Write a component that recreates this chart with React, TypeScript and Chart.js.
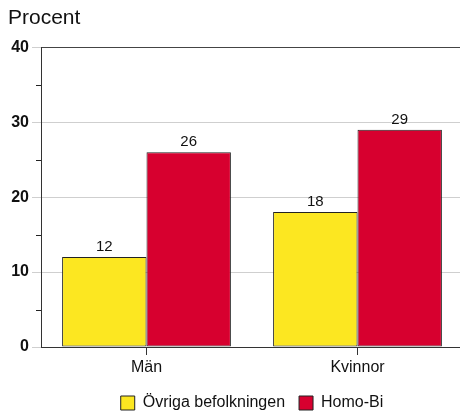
import React, { useEffect, useRef } from "react";
import { Chart, registerables } from "chart.js";

Chart.register(...registerables);

const categories = ["Män", "Kvinnor"];
const seriesNames = ["Övriga befolkningen", "Homo-Bi"];
const ovrigaValues = [12, 18];
const homoBiValues = [26, 29];
const yTicks = [0, 10, 20, 30, 40];
const yMinorTicks = [5, 15, 25, 35];
const yTitle = "Procent";

const FONT = "'Liberation Sans', Arial, Helvetica, sans-serif";
const YELLOW = "#FCE721";
const RED = "#D7002F";

const dataLabelPlugin = {
  id: "dataLabels",
  afterDatasetsDraw(chart: any) {
    const ctx = chart.ctx;
    ctx.save();
    ctx.font = `15px ${FONT}`;
    ctx.fillStyle = "#111";
    ctx.textAlign = "center";
    ctx.textBaseline = "alphabetic";
    chart.data.datasets.forEach((ds: any, i: number) => {
      const meta = chart.getDatasetMeta(i);
      meta.data.forEach((bar: any, j: number) => {
        ctx.fillText(String(ds.data[j]), bar.x, bar.y - 6);
      });
    });
    ctx.restore();
  },
};

const minorTickPlugin = {
  id: "minorTicks",
  afterDraw(chart: any) {
    const scale = chart.scales.y;
    const ctx = chart.ctx;
    ctx.save();
    ctx.strokeStyle = "#222";
    ctx.lineWidth = 1;
    yMinorTicks.forEach((v) => {
      const y = Math.round(scale.getPixelForValue(v)) + 0.5;
      ctx.beginPath();
      ctx.moveTo(scale.right - 5, y);
      ctx.lineTo(scale.right, y);
      ctx.stroke();
    });
    ctx.restore();
  },
};

export default function App() {
  const ref = useRef<HTMLCanvasElement | null>(null);

  useEffect(() => {
    if (!ref.current) return;
    const chart = new Chart(ref.current, {
      type: "bar",
      data: {
        labels: categories,
        datasets: [
          {
            label: seriesNames[0],
            data: ovrigaValues,
            backgroundColor: YELLOW,
            borderColor: "#222",
            borderWidth: 1,
            borderSkipped: false,
          },
          {
            label: seriesNames[1],
            data: homoBiValues,
            backgroundColor: RED,
            borderColor: "#222",
            borderWidth: 1,
            borderSkipped: false,
          },
        ],
      },
      options: {
        animation: false,
        responsive: false,
        maintainAspectRatio: false,
        devicePixelRatio: 1,
        layout: { padding: { left: 8, right: 0, top: 0, bottom: -7 } },
        datasets: {
          bar: { categoryPercentage: 0.8, barPercentage: 1 },
        },
        plugins: {
          title: {
            display: true,
            text: yTitle,
            align: "start",
            color: "#111",
            font: { family: FONT, size: 21, weight: "normal" },
            padding: { top: 6, bottom: 16 },
          },
          legend: {
            position: "bottom",
            fullSize: false,
            labels: {
              boxWidth: 14,
              boxHeight: 14,
              color: "#111",
              font: { family: FONT, size: 16 },
              padding: 14,
            },
          },
          tooltip: { enabled: false },
        },
        scales: {
          x: {
            grid: {
              offset: false,
              drawOnChartArea: false,
              drawTicks: true,
              tickLength: 8,
              tickColor: "#333",
            },
            border: { color: "#333", width: 1 },
            ticks: {
              color: "#111",
              font: { family: FONT, size: 16 },
              padding: 3,
            },
            afterFit(scale: any) {
              scale.height = 34;
            },
          },
          y: {
            min: 0,
            max: 40,
            afterBuildTicks(scale: any) {
              scale.ticks = yTicks.map((v) => ({ value: v }));
            },
            grid: {
              color: (c: any) =>
                c.tick && c.tick.value === 40 ? "#444" : "#cfcfcf",
              tickColor: "#cfcfcf",
              tickLength: 9,
            },
            border: { color: "#333", width: 1 },
            ticks: {
              color: "#111",
              font: { family: FONT, size: 16, weight: "bold" },
              padding: 3,
            },
            afterFit(scale: any) {
              scale.width = 33;
            },
          },
        },
      },
      plugins: [dataLabelPlugin, minorTickPlugin],
    });
    return () => chart.destroy();
  }, []);

  return (
    <div
      style={{
        position: "absolute",
        left: 0,
        top: 0,
        width: 460,
        height: 414,
        overflow: "hidden",
      }}
    >
      <canvas ref={ref} width={463} height={414} style={{ display: "block" }} />
    </div>
  );
}
